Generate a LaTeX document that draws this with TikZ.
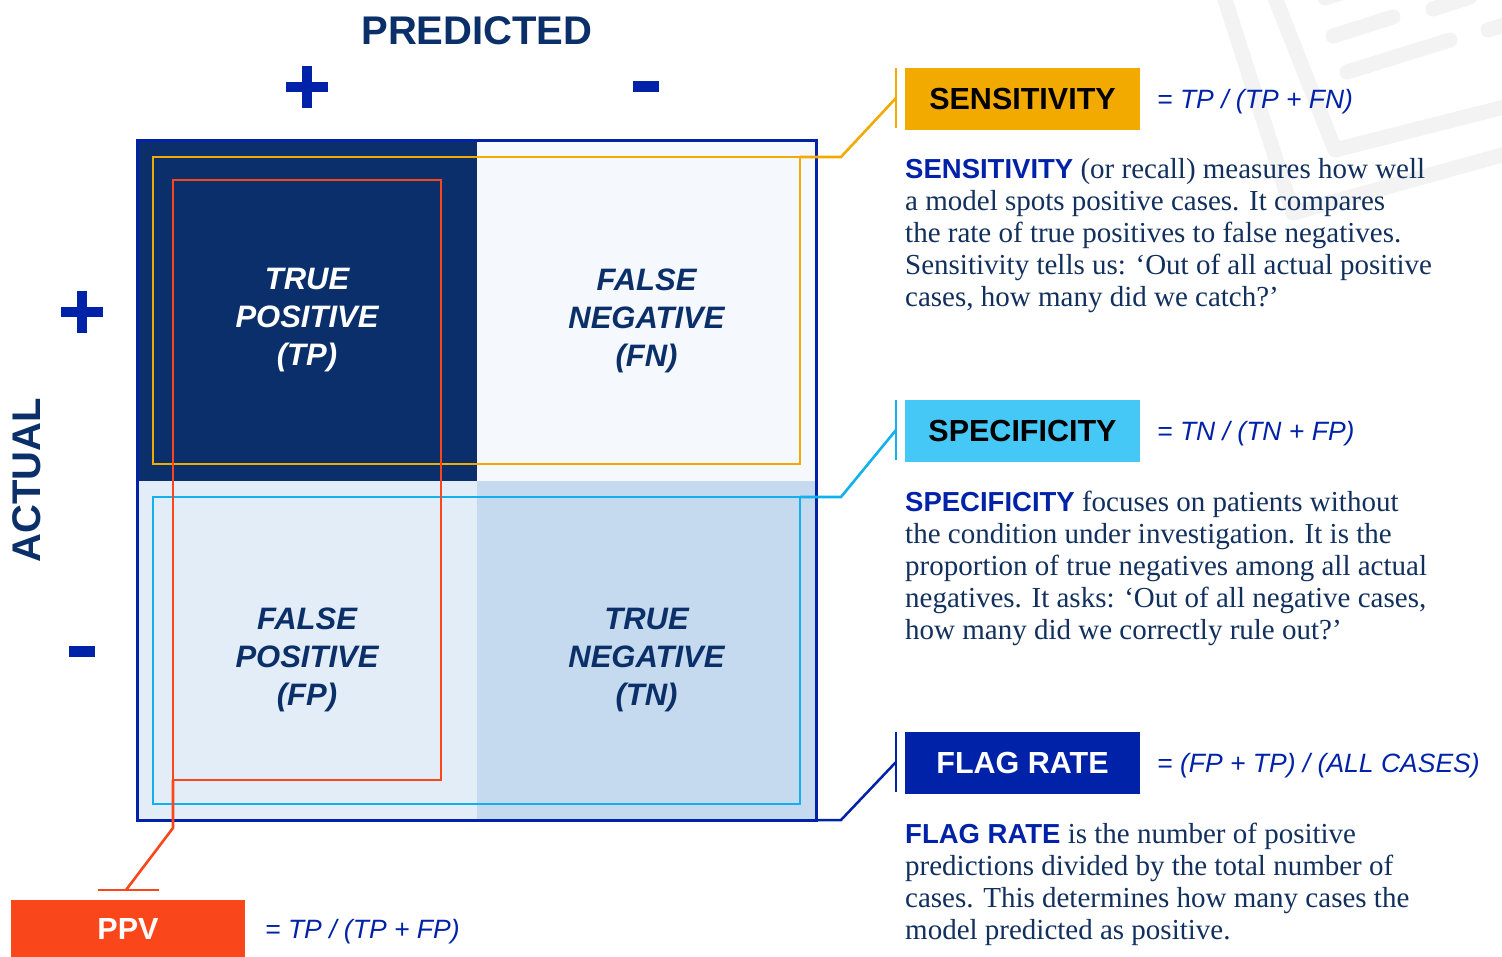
\documentclass[tikz,border=0pt]{standalone}
\usepackage{fontspec}
\setmainfont{Liberation Serif}
\newfontfamily\sansf{Liberation Sans}
\definecolor{navy}{HTML}{0B2F69}
\definecolor{royal}{HTML}{0022A8}
\definecolor{gold}{HTML}{F2AA00}
\definecolor{cyanbox}{HTML}{45C8F5}
\definecolor{cyanline}{HTML}{12B0EC}
\definecolor{redo}{HTML}{F9461B}
\definecolor{tpfill}{HTML}{0A2F6A}
\definecolor{fnfill}{HTML}{F5F9FE}
\definecolor{fpfill}{HTML}{E3EDF8}
\definecolor{tnfill}{HTML}{C5DAEE}
\definecolor{bodytxt}{HTML}{11305E}
\definecolor{wm}{HTML}{F3F3F3}
\newcommand\leadw[1]{{\sansf\bfseries\fontsize{27.5}{32}\selectfont\color{royal}#1}}
\begin{document}
\begin{tikzpicture}[x=1pt,y=-1pt,
  cellbox/.style={rectangle, minimum width=340, minimum height=340, inner sep=0, outer sep=0},
  celltext/.style={inner sep=0, align=center, text=navy,
    font=\sansf\bfseries\itshape\fontsize{31}{38}\selectfont},
  region/.style={rectangle, draw, line width=2.6, inner sep=0, outer sep=0, fill=none},
  metricbox/.style={rectangle, minimum width=235, minimum height=62, inner sep=0,
    font=\sansf\bfseries\fontsize{30.5}{34}\selectfont},
  formula/.style={anchor=west, inner sep=0, text=royal, font=\sansf\itshape\fontsize{26.5}{30}\selectfont},
  bodytext/.style={anchor=base west, align=left, inner sep=0, text=bodytxt, font=\fontsize{29}{32}\selectfont},
  header/.style={inner sep=0, text=navy, font=\sansf\bfseries\fontsize{40}{44}\selectfont},
  barline/.style={line width=2.2},
  wmline/.style={draw=wm, line width=15, line cap=round, line join=round},
  sign/.style={fill=royal, draw=none}
]
\useasboundingbox (0,0) rectangle (1502,957);
\fill[white] (0,0) rectangle (1502,957);

% watermark
\draw[wmline] (1222,-10) -- (1293,213) -- (1520,150);
\draw[wmline] (1272,-10) -- (1335,150) -- (1520,103);
\draw[wmline] (1333,36) -- (1393,17);
\draw[wmline] (1347,72) -- (1450,40);
\draw[wmline] (1325,-2) -- (1350,-10);
\draw[wmline] (1433,9) -- (1470,-3);
\draw[wmline] (1488,30) -- (1520,20);

% headers
\node[header] (pred) at (477,31) {PREDICTED};
\node[header, rotate=90] (act) at (27,480) {ACTUAL};

% plus / minus signs
\fill[sign] (286,82) rectangle (328,92);
\fill[sign] (302,66) rectangle (312,108);
\fill[sign] (633,81) rectangle (659,92);
\fill[sign] (61,307) rectangle (103,317);
\fill[sign] (77,291) rectangle (87,333);
\fill[sign] (69,646) rectangle (95,657);

% cells
\node[cellbox, fill=tpfill] (tp) at (307,311) {};
\node[cellbox, fill=fnfill] (fn) at (646.5,311) {};
\node[cellbox, fill=fpfill] (fp) at (307,650.5) {};
\node[cellbox, fill=tnfill] (tn) at (646.5,650.5) {};
\node[celltext, text=white] (tpt) at ([yshift=-9.5pt]tp.center) {TRUE\\POSITIVE\\(TP)};
\node[celltext] (fnt) at ([yshift=-9.5pt]fn.center) {FALSE\\NEGATIVE\\(FN)};
\node[celltext] (fpt) at ([yshift=-9.5pt]fp.center) {FALSE\\POSITIVE\\(FP)};
\node[celltext] (tnt) at ([yshift=-9.5pt]tn.center) {TRUE\\NEGATIVE\\(TN)};

% frame
\node[rectangle, draw=royal, line width=3, minimum width=679, minimum height=679, inner sep=0, outer sep=0] (frame) at (476.5,480.5) {};

% regions
\node[region, draw=gold, minimum width=647, minimum height=307] (sensreg) at (476.5,310.5) {};
\node[region, draw=cyanline, minimum width=647, minimum height=307] (specreg) at (476.5,650.5) {};
\node[region, draw=redo, minimum width=268, minimum height=600] (ppvreg) at (307,480) {};

% metric boxes
\node[metricbox, fill=gold, text=black] (sensbox) at (1022.5,99) {SENSITIVITY};
\node[metricbox, fill=cyanbox, text=black] (specbox) at (1022.5,431) {SPECIFICITY};
\node[metricbox, fill=royal, text=white] (flagbox) at (1022.5,762.5) {FLAG RATE};
\node[metricbox, fill=redo, text=white, minimum width=234, minimum height=58] (ppvbox) at (128,929) {PPV};

% connector end points
\coordinate (sensmid) at (896,98);
\coordinate (specmid) at (896,430);
\coordinate (flagmid) at (896,762);
\coordinate (ppvmid) at (126,890);

% connectors
\draw[gold, line width=2.6] (sensreg.north east) -- ++(41,0) -- (sensmid);
\draw[gold, barline] (sensmid) ++(0,-30) -- ++(0,60);
\draw[cyanline, line width=2.6] (specreg.north east) -- ++(41,0) -- (specmid);
\draw[cyanline, barline] (specmid) ++(0,-30) -- ++(0,60);
\draw[royal, line width=2.5] (frame.south east) -- ++(25,0) -- (flagmid);
\draw[royal, barline] (flagmid) ++(0,-30) -- ++(0,60);
\draw[redo, line width=2.6] (ppvreg.south west) -- ++(0,48) -- (ppvmid);
\draw[redo, barline] (ppvmid) ++(-28,0) -- ++(61,0);

% formulas
\node[formula] (sensf) at (1157,102) {= TP / (TP + FN)};
\node[formula] (specf) at (1157,434) {= TN / (TN + FP)};
\node[formula] (flagf) at (1157,766) {= (FP + TP) / (ALL CASES)};
\node[formula] (ppvf) at (265,932) {= TP / (TP + FP)};

% body texts (anchored at the baseline of the last line)
\node[bodytext] (sensbody) at (905,307) {\leadw{SENSITIVITY} (or recall) measures how well\\a model spots positive cases. It compares\\the rate of true positives to false negatives.\\Sensitivity tells us: ‘Out of all actual positive\\cases, how many did we catch?’};
\node[bodytext] (specbody) at (905,639) {\leadw{SPECIFICITY} focuses on patients without\\the condition under investigation. It is the\\proportion of true negatives among all actual\\negatives. It asks: ‘Out of all negative cases,\\how many did we correctly rule out?’};
\node[bodytext] (flagbody) at (905,939) {\leadw{FLAG RATE} is the number of positive\\predictions divided by the total number of\\cases. This determines how many cases the\\model predicted as positive.};
\end{tikzpicture}
\end{document}
